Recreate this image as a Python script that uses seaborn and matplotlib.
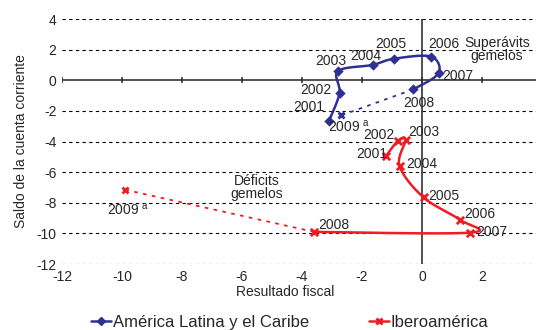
#Gráfico: resultado fiscal vs saldo de la cuenta corriente, 2001-2009
#import packages
import numpy as np
import pandas as pd
import seaborn as sns
from matplotlib import pyplot as plt
from matplotlib.lines import Line2D

#data (% del PIB)
years = ['2001', '2002', '2003', '2004', '2005', '2006', '2007', '2008', '2009']
alc_fiscal = [-3.1, -2.75, -2.8, -1.65, -0.95, 0.3, 0.55, -0.3, -2.7]
alc_cuenta = [-2.65, -0.85, 0.6, 1.0, 1.4, 1.55, 0.45, -0.6, -2.3]
ibero_fiscal = [-1.2, -0.8, -0.55, -0.75, 0.05, 1.25, 1.6, -3.6, -9.9]
ibero_cuenta = [-4.95, -3.95, -3.9, -5.6, -7.65, -9.1, -9.95, -9.9, -7.15]

#label offsets (data units) relative to each point
alc_off = [(-1.2, 0.92), (-1.32, 0.23), (-0.77, 0.69), (-0.75, 0.56), (-0.62, 0.97),
           (-0.1, 0.82), (0.11, -0.16), (-0.32, -0.89), (-0.42, -0.72)]
ibero_off = [(-0.98, 0.13), (-1.16, 0.35), (0.09, 0.51), (0.22, 0.12), (0.16, 0.06),
             (0.15, 0.37), (0.2, 0.03), (0.14, 0.46), (-0.61, -1.31)]

blue = '#2e3192'
red = '#ee1c25'

sns.set_style('white')
plt.rcParams['font.family'] = ['Liberation Sans', 'DejaVu Sans']
plt.rcParams['mathtext.fontset'] = 'custom'
plt.rcParams['mathtext.rm'] = 'Liberation Sans'
plt.rcParams['axes.unicode_minus'] = False


def smooth(x, y, n=20):
    """catmull-rom curve through the points (like excel smoothed lines)"""
    p = np.column_stack([x, y])
    p = np.vstack([p[0], p, p[-1]])
    out = []
    for i in range(1, len(p) - 2):
        p0, p1, p2, p3 = p[i - 1], p[i], p[i + 1], p[i + 2]
        t = np.linspace(0, 1, n)[:, None]
        c = 0.5 * ((2 * p1) + (-p0 + p2) * t + (2 * p0 - 5 * p1 + 4 * p2 - p3) * t ** 2
                   + (-p0 + 3 * p1 - 3 * p2 + p3) * t ** 3)
        out.append(c)
    c = np.vstack(out)
    return pd.DataFrame({'x': c[:, 0], 'y': c[:, 1]})


fig = plt.figure(figsize=(5.36, 3.3), dpi=100)
ax = fig.add_axes([0.1157, 0.2, 0.8843, 0.7424])

ax.set_xlim(-12, 3.8)
ax.set_ylim(-12, 4)

#dashed gridlines and solid axes through zero
for yv in np.arange(-12, 5, 2):
    if yv != 0:
        ax.axhline(yv, color='black', lw=0.8, ls=(0, (3, 3)), zorder=1)
ax.axhline(0, color='#333333', lw=1.2, zorder=1)
ax.axvline(0, color='#333333', lw=1.2, zorder=1)
ax.plot(np.arange(-12, 4, 2), np.zeros(8), ls='none', marker='|', ms=5, color='#333333', mew=1.2)

for s in ax.spines.values():
    s.set_visible(False)

series = [(alc_fiscal, alc_cuenta, blue, 'D', alc_off),
          (ibero_fiscal, ibero_cuenta, red, 'x', ibero_off)]
for xs, ys, col, mk, off in series:
    curve = smooth(xs[:8], ys[:8])
    sns.lineplot(data=curve, x='x', y='y', sort=False, estimator=None, color=col, lw=1.8, ax=ax, zorder=3)
    ax.plot(xs[7:], ys[7:], color=col, lw=1.3, ls=(0, (2, 3)), zorder=3)
    sns.scatterplot(x=xs[:8], y=ys[:8], marker=mk, color=col, s=28, linewidth=2 if mk == 'x' else 0,
                    ax=ax, zorder=4)
    ax.plot(xs[8], ys[8], marker='x', color=col, ms=5, mew=2, zorder=4)
    for i, yr in enumerate(years):
        lab = yr if i < 8 else r'2009$^{\ \mathrm{a}}$'
        ax.text(xs[i] + off[i][0], ys[i] + off[i][1], lab, fontsize=10, ha='left', va='center', zorder=5)

ax.text(2.5, 2.0, 'Superávits\ngemelos', fontsize=10, ha='center', va='center', linespacing=0.95)
ax.text(-5.5, -7.0, 'Déficits\ngemelos', fontsize=10, ha='center', va='center', linespacing=0.95)

ax.set_xticks(np.arange(-12, 3, 2))
ax.set_yticks(np.arange(-12, 5, 2))
ax.tick_params(length=0, labelsize=10, pad=4)
ax.set_xlabel('Resultado fiscal', fontsize=10)
ax.set_ylabel('Saldo de la cuenta corriente', fontsize=10, labelpad=6)
ax.xaxis.set_label_coords(0.47, -0.085)

handles = [Line2D([], [], color=blue, lw=1.8, marker='D', ms=4),
           Line2D([], [], color=red, lw=1.8, marker='x', ms=5, mew=2)]
fig.legend(handles, ['América Latina y el Caribe', 'Iberoamérica'], loc='center', ncol=2,
           bbox_to_anchor=(0.541, 0.024), frameon=False, fontsize=12, columnspacing=3.6,
           handlelength=1.2, handletextpad=0.1)

fig.savefig('out.png', dpi=100)
